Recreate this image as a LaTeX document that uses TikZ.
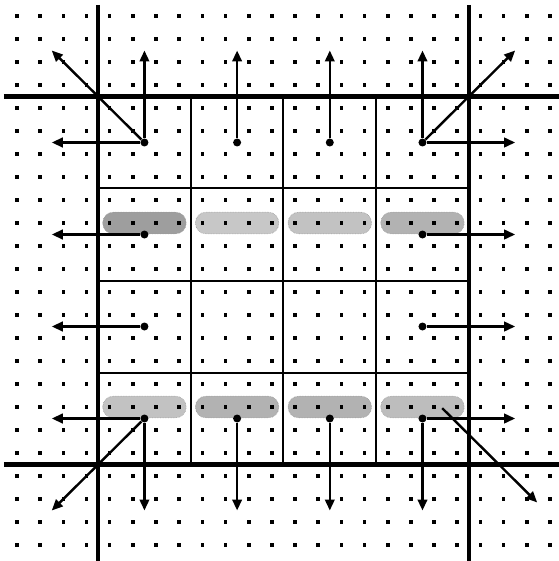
\documentclass[tikz,border=0pt]{standalone}
\usetikzlibrary{arrows.meta}
\tikzset{
  heavy/.style={line width=4.4pt},
  thinline/.style={line width=2pt},
  flux/.style={line width=2.4pt, -{Triangle[length=11pt,width=9.5pt]}},
  origin/.style={circle, fill=black, inner sep=0pt, minimum size=8pt},
  oval/.style={rounded corners=10.5pt, draw=black!40, line width=0.6pt, densely dotted},
}
\begin{document}
\begin{tikzpicture}[x=1pt,y=-1pt]
\useasboundingbox (0,0) rectangle (558,561);
\fill[white] (0,0) rectangle (558,561);
\begin{scope}[shift={(17,16)}, x=23.17pt, y=-23pt]
% shaded ovals
\foreach \a/\b/\c in {4/9/black!38, 8/9/black!22, 12/9/black!24, 16/9/black!30,
                      4/17/black!24, 8/17/black!30, 12/17/black!30, 16/17/black!26}
  \filldraw[oval, fill=\c] ({\a-0.3},{\b-0.47}) rectangle ({\a+3.3},{\b+0.47});
% grid dots
\foreach \i in {0,...,23}
  \foreach \j in {0,...,23}
    \fill (\i,\j) ++(-1.8pt,-1.8pt) rectangle ++(3.6pt,3.6pt);
% thin cell lines
\foreach \k in {7.5,11.5,15.5} {
  \draw[thinline] (\k,3.5) -- (\k,19.5);
  \draw[thinline] (3.5,\k) -- (19.5,\k);
}
% heavy boundary lines
\draw[heavy] (3.5,-0.48) -- (3.5,23.7);
\draw[heavy] (19.5,-0.48) -- (19.5,23.7);
\draw[heavy] (-0.57,3.5) -- (23.4,3.5);
\draw[heavy] (-0.57,19.5) -- (23.4,19.5);
% origins
\node[origin] (o11) at (5.5,5.5) {};
\node[origin] (o12) at (9.5,5.5) {};
\node[origin] (o13) at (13.5,5.5) {};
\node[origin] (o14) at (17.5,5.5) {};
\node[origin] (o21) at (5.5,9.5) {};
\node[origin] (o24) at (17.5,9.5) {};
\node[origin] (o31) at (5.5,13.5) {};
\node[origin] (o34) at (17.5,13.5) {};
\node[origin] (o41) at (5.5,17.5) {};
\node[origin] (o42) at (9.5,17.5) {};
\node[origin] (o43) at (13.5,17.5) {};
\node[origin] (o44) at (17.5,17.5) {};
% arrow tips
\coordinate (t11u) at (5.5,1.5);
\coordinate (t11l) at (1.5,5.5);
\coordinate (t11d) at (1.5,1.5);
\coordinate (t12u) at (9.5,1.5);
\coordinate (t13u) at (13.5,1.5);
\coordinate (t14u) at (17.5,1.5);
\coordinate (t14r) at (21.5,5.5);
\coordinate (t14d) at (21.5,1.5);
\coordinate (t21l) at (1.5,9.5);
\coordinate (t24r) at (21.5,9.5);
\coordinate (t31l) at (1.5,13.5);
\coordinate (t34r) at (21.5,13.5);
\coordinate (t41l) at (1.5,17.5);
\coordinate (t41d) at (5.5,21.5);
\coordinate (t41g) at (1.5,21.5);
\coordinate (t42d) at (9.5,21.5);
\coordinate (t43d) at (13.5,21.5);
\coordinate (t44d) at (17.5,21.5);
\coordinate (t44r) at (21.5,17.5);
\coordinate (s44g) at (18.35,17.05);
\coordinate (t44g) at (22.45,21.15);
% fluxes
\draw[flux] (o11) -- (t11u);
\draw[flux] (o11) -- (t11l);
\draw[flux] (o11) -- (t11d);
\draw[flux] (o12) -- (t12u);
\draw[flux] (o13) -- (t13u);
\draw[flux] (o14) -- (t14u);
\draw[flux] (o14) -- (t14r);
\draw[flux] (o14) -- (t14d);
\draw[flux] (o21) -- (t21l);
\draw[flux] (o24) -- (t24r);
\draw[flux] (o31) -- (t31l);
\draw[flux] (o34) -- (t34r);
\draw[flux] (o41) -- (t41l);
\draw[flux] (o41) -- (t41d);
\draw[flux] (o41) -- (t41g);
\draw[flux] (o42) -- (t42d);
\draw[flux] (o43) -- (t43d);
\draw[flux] (o44) -- (t44d);
\draw[flux] (o44) -- (t44r);
\draw[flux] (s44g) -- (t44g);
\end{scope}
\end{tikzpicture}
\end{document}
